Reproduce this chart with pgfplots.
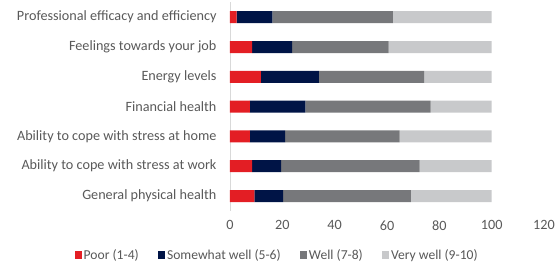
\documentclass[border=0pt]{standalone}
\usepackage{pgfplots}
\pgfplotsset{compat=1.18}
\usepackage{fontspec}
\setmainfont{Carlito}
\definecolor{cpoor}{HTML}{E31E24}
\definecolor{csome}{HTML}{001446}
\definecolor{cwell}{HTML}{77787B}
\definecolor{cvery}{HTML}{C8C9CB}
\definecolor{ctext}{HTML}{595959}
\definecolor{caxis}{HTML}{D9D9D9}
\begin{document}
\begin{tikzpicture}
\path[use as bounding box] (0pt,0pt) rectangle (558pt,270pt);
\begin{axis}[
  at={(230pt,59.1pt)}, anchor=south west,
  scale only axis, width=314pt, height=208.6pt,
  xbar stacked, bar width=12pt,
  xmin=0, xmax=120, ymin=-0.5, ymax=6.5, y dir=reverse,
  ytick={0,...,6},
  yticklabels={Professional efficacy and efficiency, Feelings towards your job, Energy levels, Financial health, Ability to cope with stress at home, Ability to cope with stress at work, General physical health},
  xtick={0,20,...,120},
  /pgf/number format/assume math mode=true,
  axis lines*=left,
  x axis line style={draw=none},
  y axis line style={draw=caxis, line width=0.8pt},
  major tick length=0pt,
  tick label style={font=\fontsize{14.2}{16}\selectfont, text=ctext},
  yticklabel style={xshift=-10pt},
  xticklabel style={yshift=-6pt},
  legend style={draw=none, font=\fontsize{13.6}{16}\selectfont, text=ctext,
    at={(0.15,-0.211)}, anchor=center, legend columns=4,
    /tikz/every even column/.append style={column sep=17pt}},
  legend image code/.code={\fill[#1] (0pt,-3.6pt) rectangle (7.2pt,3.6pt);},
]
\addplot[fill=cpoor, draw=none] coordinates {(2.5,0) (8.5,1) (11.8,2) (7.6,3) (7.6,4) (8.5,5) (9.3,6)};
\addplot[fill=csome, draw=none] coordinates {(13.7,0) (15.2,1) (22.2,2) (21.2,3) (13.5,4) (11.0,5) (11.0,6)};
\addplot[fill=cwell, draw=none] coordinates {(46.0,0) (36.9,1) (40.2,2) (47.9,3) (43.7,4) (53.0,5) (48.8,6)};
\addplot[fill=cvery, draw=none] coordinates {(37.8,0) (39.4,1) (25.8,2) (23.3,3) (35.2,4) (27.5,5) (30.9,6)};
\legend{Poor (1-4), Somewhat well (5-6), Well (7-8), Very well (9-10)}
\end{axis}
\end{tikzpicture}
\end{document}
